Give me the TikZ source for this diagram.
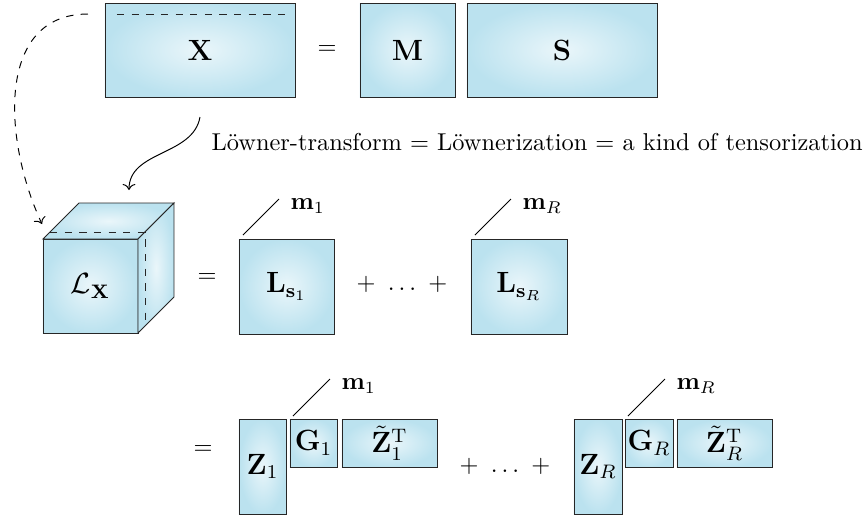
\documentclass[tikz,border=0pt]{standalone}
\usepackage{amsmath}
\usepackage{amssymb}
\usetikzlibrary{
  arrows.meta,
  positioning,
  calc
}
\definecolor{lwOut}{HTML}{BBE2EF}
\definecolor{lwIn}{HTML}{EAF6FA}
\definecolor{lwEdge}{HTML}{262626}
\newcommand{\pxl}{0.41pt}
\tikzset{
  lwmat/.style 2 args={
    draw=lwEdge, shading=radial, outer color=lwOut, inner color=lwIn,
    minimum width=#1*\pxl, minimum height=#2*\pxl, inner sep=0pt,
    outer sep=0pt, anchor=north west, font=\large
  },
  lwface/.style={draw=lwEdge, shading=radial, outer color=lwOut, inner color=lwIn},
  lwhidden/.style={dashed, lwEdge},
  lwarrow/.style={->, black},
  mline/.style={black},
  mlab/.style={anchor=west, shift={(3,7)}},
  optag/.style={}
}

\begin{document}
\begin{tikzpicture}[x=\pxl, y=-\pxl]
  \useasboundingbox (0,0) rectangle (867,518);
  % X = M S
  \node[lwmat={190}{94}] (X) at (105,3) {$\mathbf{X}$};
  \node[optag] (eqa) at (327,50) {$=$};
  \node[lwmat={95}{94}] (M) at (360,3) {$\mathbf{M}$};
  \node[lwmat={190}{94}] (S) at (467,3) {$\mathbf{S}$};
  \draw[lwhidden] ($(X.north west)+(12,11)$) -- ($(X.north east)+(-10,11)$);

  % Loewner tensor
  \node[lwmat={95}{94}] (LX) at (43,239) {$\mathcal{L}_{\mathbf{X}}$};
  \filldraw[lwface] (LX.north west) -- ++(36,-36) -- ++(95,0) -- (LX.north east) -- cycle;
  \filldraw[lwface] (LX.north east) -- ++(36,-36) -- ++(0,94) -- (LX.south east) -- cycle;
  \draw[lwhidden] ($(LX.north west)+(7,-7)$) -- ++(95,0) -- ++(0,94);

  \coordinate (tA) at ($(X.south)+(0,20)$);
  \coordinate (tB) at (129,190);
  \draw[lwarrow] (tA) to[out=-100, in=90] (tB);
  \node[anchor=west] (lwlab) at (203,142) {L\"owner-transform $=$ L\"ownerization $=$ a kind of tensorization};

  \coordinate (dA) at ($(X.north west)+(-17,11)$);
  \coordinate (dB) at ($(LX.north west)+(-1,-15)$);
  \draw[lwarrow, dashed] (dA) to[out=180, in=115, looseness=1.1] (dB);

  % = L_s1 + ... + L_sR
  \node[optag] (eqb) at (207,278) {$=$};
  \node[lwmat={95}{95}] (L1) at (239,239) {$\mathbf{L}_{\mathbf{s}_1}$};
  \node[optag] (sumb) at (402,284) {$+\ \ldots\ +$};
  \node[lwmat={96}{95}] (LR) at (471,239) {$\mathbf{L}_{\mathbf{s}_R}$};
  \draw[mline] ($(L1.north west)+(4,-4)$) -- ++(36,-36) node[mlab] {$\mathbf{m}_1$};
  \draw[mline] ($(LR.north west)+(4,-4)$) -- ++(36,-36) node[mlab] {$\mathbf{m}_R$};

  % = Z G Zt + ... + Z G Zt
  \node[optag] (eqc) at (203,450) {$=$};
  \node[lwmat={47}{95}] (Z1) at (239,419) {$\mathbf{Z}_1$};
  \node[lwmat={47}{48}] (G1) at ($(Z1.north east)+(4,0)$) {$\mathbf{G}_1$};
  \node[lwmat={95}{48}] (Zt1) at ($(G1.north east)+(5,0)$) {$\tilde{\mathbf{Z}}_1^{\mathrm{T}}$};
  \node[optag] (sumc) at (505,466) {$+\ \ldots\ +$};
  \node[lwmat={48}{95}] (ZR) at (574,419) {$\mathbf{Z}_R$};
  \node[lwmat={48}{48}] (GR) at ($(ZR.north east)+(3,0)$) {$\mathbf{G}_R$};
  \node[lwmat={95}{48}] (ZtR) at ($(GR.north east)+(4,0)$) {$\tilde{\mathbf{Z}}_R^{\mathrm{T}}$};
  \draw[mline] ($(G1.north west)+(3,-3)$) -- ++(37,-37) node[mlab] {$\mathbf{m}_1$};
  \draw[mline] ($(GR.north west)+(3,-3)$) -- ++(37,-37) node[mlab] {$\mathbf{m}_R$};
\end{tikzpicture}
\end{document}
